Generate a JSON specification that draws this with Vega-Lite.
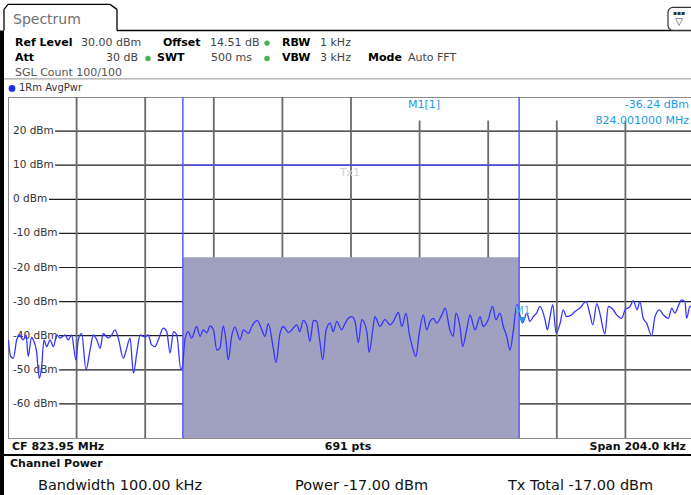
{
  "$schema": "https://vega.github.io/schema/vega-lite/v6.json",
  "width": 686,
  "height": 341,
  "autosize": {"type": "none"},
  "padding": {"left": 8, "top": 97, "right": 0, "bottom": 57},
  "background": "white",
  "config": {
    "view": {"stroke": "#8a8a8a", "strokeWidth": 1},
    "text": {"font": "DejaVu Sans"},
    "axis": {"domain": false, "ticks": false, "labels": false, "grid": false, "title": null}
  },
  "layer": [
    {
      "data": {"values": [
        {"level": 20, "from": 823.8620, "to": 824.052}, {"level": 10, "from": 823.8620, "to": 824.052}, {"level": 0, "from": 823.8602, "to": 824.052},
        {"level": -10, "from": 823.8632, "to": 824.052}, {"level": -20, "from": 823.8632, "to": 824.052}, {"level": -30, "from": 823.8632, "to": 824.052},
        {"level": -40, "from": 823.8632, "to": 824.052}, {"level": -50, "from": 823.8632, "to": 824.052}, {"level": -60, "from": 823.8632, "to": 824.052}
      ]},
      "mark": {"type": "rule", "color": "#1c1c1c", "strokeWidth": 1.2},
      "encoding": {
        "x": {"field": "from", "type": "quantitative", "scale": {"domain": [823.848, 824.052], "nice": false, "zero": false}, "axis": null},
        "x2": {"field": "to"},
        "y": {"field": "level", "type": "quantitative", "scale": {"domain": [-70, 30], "nice": false, "zero": false}, "axis": null}
      }
    },
    {
      "data": {"values": [{"f": 823.8684}, {"f": 823.8888}, {"f": 823.9092}, {"f": 823.9296}, {"f": 823.95}]},
      "mark": {"type": "rule", "color": "#6a6a6a", "strokeWidth": 1.8},
      "encoding": {"x": {"field": "f", "type": "quantitative"}}
    },
    {
      "data": {"values": [{"f": 823.9704, "lo": -70, "hi": 23.1}, {"f": 823.9908, "lo": -70, "hi": 23.1}, {"f": 824.0112, "lo": -70, "hi": 23.1}, {"f": 824.0316, "lo": -70, "hi": 23.1}]},
      "mark": {"type": "rule", "color": "#6a6a6a", "strokeWidth": 1.8},
      "encoding": {"x": {"field": "f", "type": "quantitative"}, "y": {"field": "lo", "type": "quantitative"}, "y2": {"field": "hi"}}
    },
    {
      "data": {"values": [{"start": 823.9, "end": 824.0, "floor": -70, "power": -17}]},
      "mark": {"type": "rect", "color": "#a0a0c0", "opacity": 1},
      "encoding": {"x": {"field": "start", "type": "quantitative"}, "x2": {"field": "end"}, "y": {"field": "floor", "type": "quantitative"}, "y2": {"field": "power"}}
    },
    {
      "data": {"values": [{"start": 823.9, "end": 824.0, "level": 10}]},
      "mark": {"type": "rule", "color": "#4a4aff", "strokeWidth": 1.2},
      "encoding": {"x": {"field": "start", "type": "quantitative"}, "x2": {"field": "end"}, "y": {"field": "level", "type": "quantitative"}}
    },
    {
      "data": {"values": [{"f": 823.9}, {"f": 824.0}]},
      "mark": {"type": "rule", "color": "#5a5aff", "strokeWidth": 1.5},
      "encoding": {"x": {"field": "f", "type": "quantitative"}}
    },
    {
      "data": {"values": [{}]},
      "mark": {"type": "text", "text": "Tx1", "align": "center", "baseline": "middle", "fontSize": 11, "color": "#d4d4d4"},
      "encoding": {"x": {"datum": 823.9497}, "y": {"datum": 7.8}}
    },
    {
      "data": {"values": [
        {"level": 20, "label": "20 dBm"}, {"level": 10, "label": "10 dBm"}, {"level": 0, "label": "0 dBm"},
        {"level": -10, "label": "-10 dBm"}, {"level": -20, "label": "-20 dBm"}, {"level": -30, "label": "-30 dBm"},
        {"level": -40, "label": "-40 dBm"}, {"level": -50, "label": "-50 dBm"}, {"level": -60, "label": "-60 dBm"}
      ]},
      "mark": {"type": "text", "align": "left", "baseline": "middle", "fontSize": 10.5, "color": "#333333"},
      "encoding": {"x": {"datum": 823.84949}, "y": {"field": "level", "type": "quantitative"}, "text": {"field": "label", "type": "nominal"}}
    },
    {
      "data": {"values": [
        {"f":823.8481,"dBm":-41.2},{"f":823.8488,"dBm":-46.1},{"f":823.8496,"dBm":-46.6},{"f":823.8506,"dBm":-41.2},{"f":823.8516,"dBm":-39.8},{"f":823.8525,"dBm":-41.2},{"f":823.8534,"dBm":-39.8},{"f":823.854,"dBm":-46.1},{"f":823.855,"dBm":-40.4},{"f":823.8555,"dBm":-41.2},{"f":823.8565,"dBm":-44.7},{"f":823.8573,"dBm":-52.5},{"f":823.858,"dBm":-49.1},{"f":823.8587,"dBm":-41.2},{"f":823.8595,"dBm":-43.2},{"f":823.8605,"dBm":-41.2},{"f":823.8615,"dBm":-43.2},{"f":823.8625,"dBm":-39.8},{"f":823.8635,"dBm":-40.7},{"f":823.865,"dBm":-39.8},{"f":823.8659,"dBm":-41.2},{"f":823.8669,"dBm":-39.8},{"f":823.8682,"dBm":-47.1},{"f":823.8689,"dBm":-41.2},{"f":823.8699,"dBm":-39.3},{"f":823.8712,"dBm":-50.0},{"f":823.8724,"dBm":-44.2},{"f":823.8734,"dBm":-39.8},{"f":823.8744,"dBm":-41.2},{"f":823.8754,"dBm":-43.7},{"f":823.8763,"dBm":-39.3},{"f":823.8778,"dBm":-40.7},{"f":823.8788,"dBm":-39.8},{"f":823.8798,"dBm":-38.3},{"f":823.8808,"dBm":-40.7},{"f":823.8823,"dBm":-46.6},{"f":823.8831,"dBm":-44.4},{"f":823.8843,"dBm":-40.7},{"f":823.8853,"dBm":-51.0},{"f":823.8863,"dBm":-45.1},{"f":823.8873,"dBm":-39.8},{"f":823.8887,"dBm":-40.4},{"f":823.8897,"dBm":-39.8},{"f":823.8907,"dBm":-42.7},{"f":823.8917,"dBm":-43.2},{"f":823.8927,"dBm":-41.2},{"f":823.8942,"dBm":-37.8},{"f":823.8952,"dBm":-38.8},{"f":823.8962,"dBm":-45.1},{"f":823.8972,"dBm":-38.8},{"f":823.8982,"dBm":-39.8},{"f":823.8994,"dBm":-50.0},{"f":823.8999,"dBm":-48.9},
        {"f":823.9006,"dBm":-41.2},{"f":823.9016,"dBm":-38.8},{"f":823.9026,"dBm":-40.7},{"f":823.9041,"dBm":-37.3},{"f":823.9051,"dBm":-40.2},{"f":823.9061,"dBm":-38.3},{"f":823.9071,"dBm":-39.2},{"f":823.9081,"dBm":-37.1},{"f":823.9091,"dBm":-38.3},{"f":823.9101,"dBm":-44.2},{"f":823.911,"dBm":-43.7},{"f":823.912,"dBm":-37.1},{"f":823.9128,"dBm":-41.2},{"f":823.9135,"dBm":-47.1},{"f":823.9145,"dBm":-40.2},{"f":823.9155,"dBm":-37.5},{"f":823.917,"dBm":-41.2},{"f":823.918,"dBm":-38.3},{"f":823.9195,"dBm":-39.3},{"f":823.9205,"dBm":-37.3},{"f":823.9221,"dBm":-35.5},{"f":823.9235,"dBm":-38.3},{"f":823.9244,"dBm":-40.2},{"f":823.9254,"dBm":-36.5},{"f":823.9269,"dBm":-43.7},{"f":823.9277,"dBm":-47.9},{"f":823.9289,"dBm":-39.3},{"f":823.9299,"dBm":-37.3},{"f":823.9314,"dBm":-39.1},{"f":823.9324,"dBm":-38.3},{"f":823.9339,"dBm":-36.8},{"f":823.9348,"dBm":-38.8},{"f":823.9358,"dBm":-35.5},{"f":823.9368,"dBm":-36.8},{"f":823.9378,"dBm":-41.7},{"f":823.9388,"dBm":-35.5},{"f":823.9398,"dBm":-35.8},{"f":823.9408,"dBm":-42.2},{"f":823.9416,"dBm":-47.1},{"f":823.9426,"dBm":-38.3},{"f":823.9438,"dBm":-36.3},{"f":823.9447,"dBm":-38.8},{"f":823.9458,"dBm":-35.8},{"f":823.9472,"dBm":-38.3},{"f":823.9482,"dBm":-36.5},{"f":823.9492,"dBm":-34.9},{"f":823.9502,"dBm":-34.4},{"f":823.9512,"dBm":-35.8},{"f":823.9522,"dBm":-42.0},{"f":823.9532,"dBm":-35.3},{"f":823.9547,"dBm":-38.8},{"f":823.9554,"dBm":-44.9},{"f":823.9566,"dBm":-37.3},{"f":823.9571,"dBm":-34.4},{"f":823.9586,"dBm":-37.3},{"f":823.9601,"dBm":-35.3},{"f":823.9616,"dBm":-36.8},{"f":823.9626,"dBm":-35.8},{"f":823.9641,"dBm":-33.2},{"f":823.9651,"dBm":-37.3},{"f":823.9664,"dBm":-33.4},{"f":823.9673,"dBm":-39.3},{"f":823.9681,"dBm":-42.7},{"f":823.9693,"dBm":-46.1},{"f":823.9703,"dBm":-39.3},{"f":823.9715,"dBm":-33.9},{"f":823.9725,"dBm":-38.3},{"f":823.9735,"dBm":-35.8},{"f":823.9745,"dBm":-34.9},{"f":823.9755,"dBm":-36.3},{"f":823.977,"dBm":-33.9},{"f":823.978,"dBm":-31.9},{"f":823.9794,"dBm":-38.3},{"f":823.9804,"dBm":-40.2},{"f":823.9812,"dBm":-33.4},{"f":823.9824,"dBm":-37.3},{"f":823.9832,"dBm":-43.2},{"f":823.9844,"dBm":-38.3},{"f":823.9854,"dBm":-33.9},{"f":823.9869,"dBm":-38.3},{"f":823.9884,"dBm":-34.4},{"f":823.9893,"dBm":-37.3},{"f":823.9908,"dBm":-35.3},{"f":823.9921,"dBm":-31.4},{"f":823.9931,"dBm":-35.3},{"f":823.9943,"dBm":-33.4},{"f":823.9953,"dBm":-37.3},{"f":823.9963,"dBm":-40.2},{"f":823.9973,"dBm":-44.2},{"f":823.9983,"dBm":-38.3},{"f":823.9993,"dBm":-30.9},{"f":824.001,"dBm":-36.24},
        {"f":824.0023,"dBm":-33.4},{"f":824.0032,"dBm":-35.8},{"f":824.0042,"dBm":-34.4},{"f":824.0052,"dBm":-33.4},{"f":824.0062,"dBm":-31.4},{"f":824.0077,"dBm":-35.3},{"f":824.0084,"dBm":-38.3},{"f":824.0092,"dBm":-34.4},{"f":824.01,"dBm":-30.9},{"f":824.011,"dBm":-39.2},{"f":824.0122,"dBm":-36.3},{"f":824.0131,"dBm":-32.4},{"f":824.0141,"dBm":-34.4},{"f":824.0156,"dBm":-33.9},{"f":824.0166,"dBm":-32.9},{"f":824.0181,"dBm":-31.9},{"f":824.0199,"dBm":-30.0},{"f":824.0211,"dBm":-33.9},{"f":824.0219,"dBm":-36.8},{"f":824.0231,"dBm":-30.6},{"f":824.024,"dBm":-33.4},{"f":824.0255,"dBm":-39.5},{"f":824.0265,"dBm":-31.4},{"f":824.028,"dBm":-32.4},{"f":824.029,"dBm":-33.9},{"f":824.0305,"dBm":-34.9},{"f":824.0315,"dBm":-32.4},{"f":824.033,"dBm":-31.4},{"f":824.0339,"dBm":-29.7},{"f":824.0351,"dBm":-32.4},{"f":824.0359,"dBm":-30.0},{"f":824.0369,"dBm":-34.9},{"f":824.0379,"dBm":-36.3},{"f":824.0394,"dBm":-40.0},{"f":824.0404,"dBm":-34.4},{"f":824.0417,"dBm":-32.4},{"f":824.0429,"dBm":-33.9},{"f":824.0444,"dBm":-34.9},{"f":824.0454,"dBm":-31.9},{"f":824.0463,"dBm":-33.4},{"f":824.0473,"dBm":-31.4},{"f":824.0483,"dBm":-29.5},{"f":824.0493,"dBm":-30.0},{"f":824.0498,"dBm":-34.9},{"f":824.0508,"dBm":-31.4},{"f":824.0517,"dBm":-32.4}
      ]},
      "mark": {"type": "line", "color": "#3535ff", "strokeWidth": 1.3, "interpolate": "monotone", "clip": true},
      "encoding": {"x": {"field": "f", "type": "quantitative"}, "y": {"field": "dBm", "type": "quantitative"}}
    },
    {
      "data": {"values": [{"f": 824.001, "dBm": -35.4, "name": "M1"}]},
      "mark": {"type": "point", "shape": "triangle-down", "filled": true, "size": 45, "color": "#1a9be6", "opacity": 1},
      "encoding": {"x": {"field": "f", "type": "quantitative"}, "y": {"field": "dBm", "type": "quantitative"}}
    },
    {
      "data": {"values": [{"f": 824.001, "dBm": -36.24, "name": "M1"}]},
      "mark": {"type": "text", "align": "center", "baseline": "bottom", "fontSize": 10, "color": "#4fb0ee", "dy": -7},
      "encoding": {"x": {"field": "f", "type": "quantitative"}, "y": {"field": "dBm", "type": "quantitative"}, "text": {"field": "name", "type": "nominal"}}
    },
    {"data": {"values": [{}]}, "mark": {"type": "text", "text": "M1[1]", "align": "center", "baseline": "middle", "fontSize": 11, "color": "#1a9be6"}, "encoding": {"x": {"datum": 823.97171}, "y": {"datum": 27.6}}},
    {"data": {"values": [{}]}, "mark": {"type": "text", "text": "-36.24 dBm", "align": "right", "baseline": "middle", "fontSize": 11, "color": "#1a9be6"}, "encoding": {"x": {"datum": 824.05052}, "y": {"datum": 27.6}}},
    {"data": {"values": [{}]}, "mark": {"type": "text", "text": "824.001000 MHz", "align": "right", "baseline": "middle", "fontSize": 11, "color": "#1a9be6"}, "encoding": {"x": {"datum": 824.05052}, "y": {"datum": 22.9}}},
    {
      "data": {"values": [
        {"a": 823.84622, "b": 823.84622, "c": 49.53, "d": -88.2, "w": 4},
        {"a": 823.84681, "b": 823.84681, "c": 55.7, "d": 49.53, "w": 1.3},
        {"a": 823.848, "b": 823.87833, "c": 57.17, "d": 57.17, "w": 1.3},
        {"a": 823.84681, "b": 823.848, "c": 55.7, "d": 57.17, "w": 1.3},
        {"a": 823.87833, "b": 823.88041, "c": 57.17, "d": 55.7, "w": 1.3},
        {"a": 823.88041, "b": 823.88041, "c": 55.7, "d": 49.53, "w": 1.3},
        {"a": 823.88041, "b": 824.0535, "c": 49.53, "d": 49.53, "w": 1.5},
        {"a": 823.84681, "b": 824.0535, "c": -74.99, "d": -74.99, "w": 2}
      ]},
      "mark": {"type": "rule", "color": "#000000"},
      "encoding": {"x": {"field": "a", "type": "quantitative"}, "x2": {"field": "b"}, "y": {"field": "c", "type": "quantitative"}, "y2": {"field": "d"}, "strokeWidth": {"field": "w", "type": "quantitative", "scale": null}}
    },
    {
      "data": {"values": [{"a": 824.04427, "b": 824.0535, "c": 56.28, "d": 49.53}]},
      "mark": {"type": "rect", "fill": "white", "stroke": "#333333", "strokeWidth": 1.2, "cornerRadius": 5},
      "encoding": {"x": {"field": "a", "type": "quantitative"}, "x2": {"field": "b"}, "y": {"field": "c", "type": "quantitative"}, "y2": {"field": "d"}}
    },
    {"data": {"values": [{}]}, "mark": {"type": "text", "text": "▽", "align": "center", "baseline": "middle", "fontSize": 10, "color": "#333333"}, "encoding": {"x": {"datum": 824.04754}, "y": {"datum": 51.9}}},
    {"data": {"values": [{}]}, "mark": {"type": "text", "text": "▪▪▪", "align": "center", "baseline": "middle", "fontSize": 6, "color": "#333333"}, "encoding": {"x": {"datum": 824.04754}, "y": {"datum": 54.6}}},
    {"data": {"values": [{}]}, "mark": {"type": "text", "text": "Spectrum", "align": "left", "baseline": "middle", "fontSize": 14, "color": "#707070"}, "encoding": {"x": {"datum": 823.84949}, "y": {"datum": 52.5}}},
    {"data": {"values": [{}]}, "mark": {"type": "text", "text": "Ref Level", "align": "left", "baseline": "middle", "fontSize": 11, "fontWeight": "bold", "color": "#000000"}, "encoding": {"x": {"datum": 823.85008}, "y": {"datum": 45.8}}},
    {"data": {"values": [{}]}, "mark": {"type": "text", "text": "30.00 dBm", "align": "left", "baseline": "middle", "fontSize": 11, "color": "#444444"}, "encoding": {"x": {"datum": 823.86971}, "y": {"datum": 45.8}}},
    {"data": {"values": [{}]}, "mark": {"type": "text", "text": "Offset", "align": "left", "baseline": "middle", "fontSize": 11, "fontWeight": "bold", "color": "#000000"}, "encoding": {"x": {"datum": 823.89409}, "y": {"datum": 45.8}}},
    {"data": {"values": [{}]}, "mark": {"type": "text", "text": "14.51 dB", "align": "left", "baseline": "middle", "fontSize": 11, "color": "#444444"}, "encoding": {"x": {"datum": 823.90807}, "y": {"datum": 45.8}}},
    {"data": {"values": [{}]}, "mark": {"type": "text", "text": "RBW", "align": "left", "baseline": "middle", "fontSize": 11, "fontWeight": "bold", "color": "#000000"}, "encoding": {"x": {"datum": 823.92948}, "y": {"datum": 45.8}}},
    {"data": {"values": [{}]}, "mark": {"type": "text", "text": "1 kHz", "align": "left", "baseline": "middle", "fontSize": 11, "color": "#444444"}, "encoding": {"x": {"datum": 823.94078}, "y": {"datum": 45.8}}},
    {"data": {"values": [{}]}, "mark": {"type": "text", "text": "Att", "align": "left", "baseline": "middle", "fontSize": 11, "fontWeight": "bold", "color": "#000000"}, "encoding": {"x": {"datum": 823.85008}, "y": {"datum": 41.3}}},
    {"data": {"values": [{}]}, "mark": {"type": "text", "text": "30 dB", "align": "right", "baseline": "middle", "fontSize": 11, "color": "#444444"}, "encoding": {"x": {"datum": 823.88666}, "y": {"datum": 41.3}}},
    {"data": {"values": [{}]}, "mark": {"type": "text", "text": "SWT", "align": "left", "baseline": "middle", "fontSize": 11, "fontWeight": "bold", "color": "#000000"}, "encoding": {"x": {"datum": 823.89231}, "y": {"datum": 41.3}}},
    {"data": {"values": [{}]}, "mark": {"type": "text", "text": "500 ms", "align": "right", "baseline": "middle", "fontSize": 11, "color": "#444444"}, "encoding": {"x": {"datum": 823.92056}, "y": {"datum": 41.3}}},
    {"data": {"values": [{}]}, "mark": {"type": "text", "text": "VBW", "align": "left", "baseline": "middle", "fontSize": 11, "fontWeight": "bold", "color": "#000000"}, "encoding": {"x": {"datum": 823.92948}, "y": {"datum": 41.3}}},
    {"data": {"values": [{}]}, "mark": {"type": "text", "text": "3 kHz", "align": "left", "baseline": "middle", "fontSize": 11, "color": "#444444"}, "encoding": {"x": {"datum": 823.94078}, "y": {"datum": 41.3}}},
    {"data": {"values": [{}]}, "mark": {"type": "text", "text": "Mode", "align": "left", "baseline": "middle", "fontSize": 11, "fontWeight": "bold", "color": "#000000"}, "encoding": {"x": {"datum": 823.95506}, "y": {"datum": 41.3}}},
    {"data": {"values": [{}]}, "mark": {"type": "text", "text": "Auto FFT", "align": "left", "baseline": "middle", "fontSize": 11, "color": "#444444"}, "encoding": {"x": {"datum": 823.96695}, "y": {"datum": 41.3}}},
    {"data": {"values": [{}]}, "mark": {"type": "text", "text": "SGL Count 100/100", "align": "left", "baseline": "middle", "fontSize": 11, "color": "#555555"}, "encoding": {"x": {"datum": 823.85008}, "y": {"datum": 37.0}}},
    {
      "data": {"values": [{"a": 823.92502, "c": 45.8}, {"a": 823.92502, "c": 41.3}, {"a": 823.88963, "c": 41.3}]},
      "mark": {"type": "point", "shape": "circle", "filled": true, "size": 30, "color": "#4caf50", "opacity": 1},
      "encoding": {"x": {"field": "a", "type": "quantitative"}, "y": {"field": "c", "type": "quantitative"}}
    },
    {
      "data": {"values": [{"a": 823.84681, "b": 824.0535, "c": 35.29}]},
      "mark": {"type": "rule", "color": "#a8a8a8", "strokeWidth": 1.2},
      "encoding": {"x": {"field": "a", "type": "quantitative"}, "x2": {"field": "b"}, "y": {"field": "c", "type": "quantitative"}}
    },
    {"data": {"values": [{}]}, "mark": {"type": "point", "shape": "circle", "filled": true, "size": 45, "color": "#1a2fe0", "opacity": 1}, "encoding": {"x": {"datum": 823.84919}, "y": {"datum": 32.5}}},
    {"data": {"values": [{}]}, "mark": {"type": "text", "text": "1Rm AvgPwr", "align": "left", "baseline": "middle", "fontSize": 10, "color": "#333333"}, "encoding": {"x": {"datum": 823.85127}, "y": {"datum": 32.5}}},
    {"data": {"values": [{}]}, "mark": {"type": "text", "text": "CF 823.95 MHz", "align": "left", "baseline": "middle", "fontSize": 11, "fontWeight": "bold", "color": "#111111"}, "encoding": {"x": {"datum": 823.84919}, "y": {"datum": -72.6}}},
    {"data": {"values": [{}]}, "mark": {"type": "text", "text": "691 pts", "align": "center", "baseline": "middle", "fontSize": 11, "fontWeight": "bold", "color": "#111111"}, "encoding": {"x": {"datum": 823.9491}, "y": {"datum": -72.6}}},
    {"data": {"values": [{}]}, "mark": {"type": "text", "text": "Span 204.0 kHz", "align": "right", "baseline": "middle", "fontSize": 11, "fontWeight": "bold", "color": "#111111"}, "encoding": {"x": {"datum": 824.04962}, "y": {"datum": -72.6}}},
    {"data": {"values": [{}]}, "mark": {"type": "text", "text": "Channel Power", "align": "left", "baseline": "middle", "fontSize": 11, "fontWeight": "bold", "color": "#111111"}, "encoding": {"x": {"datum": 823.8486}, "y": {"datum": -77.6}}},
    {"data": {"values": [{}]}, "mark": {"type": "text", "text": "Bandwidth  100.00 kHz", "align": "left", "baseline": "middle", "fontSize": 14.5, "color": "#111111"}, "encoding": {"x": {"datum": 823.85692}, "y": {"datum": -84.1}}},
    {"data": {"values": [{}]}, "mark": {"type": "text", "text": "Power  -17.00 dBm", "align": "left", "baseline": "middle", "fontSize": 14.5, "color": "#111111"}, "encoding": {"x": {"datum": 823.93335}, "y": {"datum": -84.1}}},
    {"data": {"values": [{}]}, "mark": {"type": "text", "text": "Tx Total  -17.00 dBm", "align": "left", "baseline": "middle", "fontSize": 14.5, "color": "#111111"}, "encoding": {"x": {"datum": 823.99669}, "y": {"datum": -84.1}}}
  ]
}
